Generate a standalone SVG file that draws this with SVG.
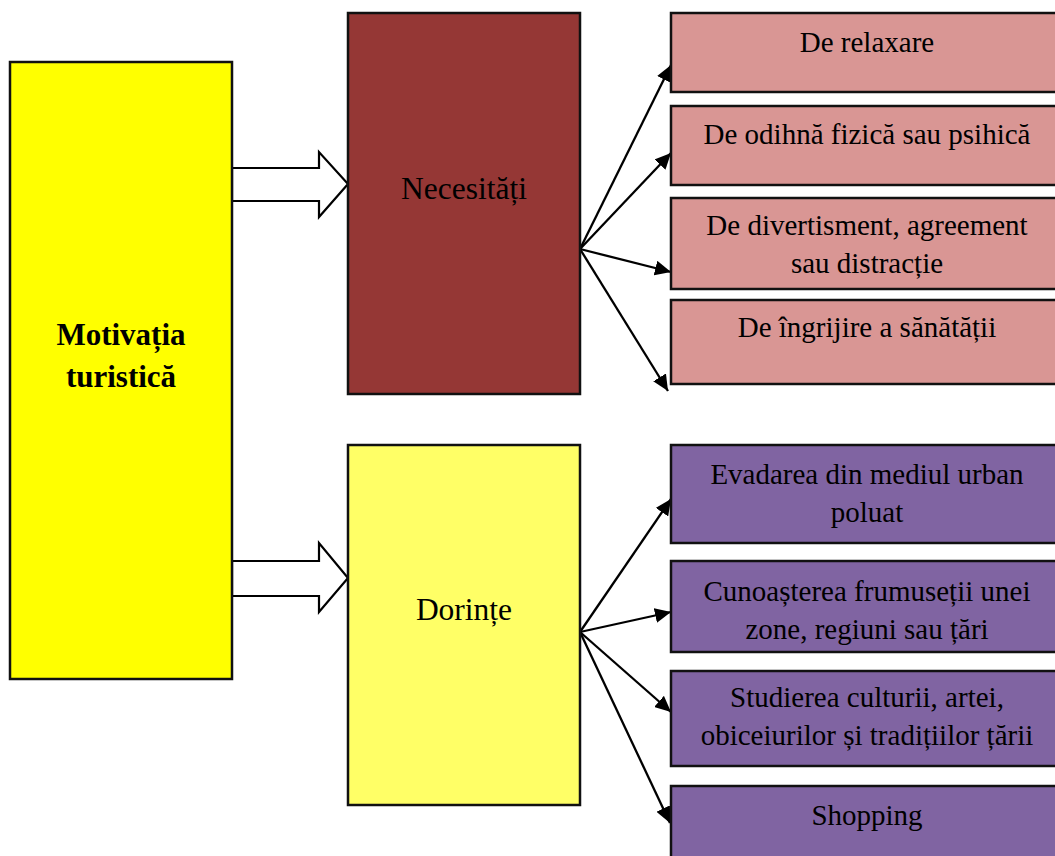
<svg xmlns="http://www.w3.org/2000/svg" width="1055" height="856" viewBox="0 0 1055 856">
  <style>
    .box { stroke: #111; stroke-width: 2.5; }
    .main { fill: #FFFF00; }
    .need { fill: #953735; }
    .wish { fill: #FFFF66; }
    .pink { fill: #D99694; }
    .purple { fill: #8064A2; }
    .t { font-family: "Liberation Serif", "Times New Roman", serif; font-size: 29px; fill: #000; text-anchor: middle; }
    .big { font-size: 31.5px; }
    .bold { font-weight: bold; font-size: 31px; }
    .block { fill: #fff; stroke: #000; stroke-width: 2.2; stroke-linejoin: miter; }
    .fan { stroke: #000; stroke-width: 2.3; fill: none; marker-end: url(#head); }
  </style>
  <defs>
    <marker id="head" markerUnits="userSpaceOnUse" markerWidth="17" markerHeight="15" refX="16" refY="7.5" orient="auto">
      <path d="M0,0 L16,7.5 L0,15 Z" fill="#000"/>
    </marker>
  </defs>
  <rect width="1055" height="856" fill="#fff"/>

  <g id="connectors">
    <!-- block arrows from the main box -->
    <polygon class="block" points="232,168 319,168 319,152 348,184 319,217 319,201 232,201"/>
    <polygon class="block" points="232,561 319,561 319,543 348,578 319,612 319,596 232,596"/>
    <!-- fan from Necesități -->
    <line class="fan" x1="580" y1="249" x2="671" y2="65"/>
    <line class="fan" x1="580" y1="249" x2="671" y2="153"/>
    <line class="fan" x1="580" y1="249" x2="671" y2="272"/>
    <line class="fan" x1="580" y1="249" x2="668" y2="391"/>
    <!-- fan from Dorințe -->
    <line class="fan" x1="580" y1="632" x2="671" y2="499"/>
    <line class="fan" x1="580" y1="632" x2="671" y2="612"/>
    <line class="fan" x1="580" y1="632" x2="671" y2="712"/>
    <line class="fan" x1="580" y1="632" x2="670" y2="823"/>
  </g>

  <g id="motivatia">
    <rect class="box main" x="10" y="62" width="222" height="617"/>
    <text class="t bold" x="121" y="345">Motivația</text>
    <text class="t bold" x="121" y="387">turistică</text>
  </g>

  <g id="necesitati">
    <rect class="box need" x="348" y="13" width="232" height="381"/>
    <text class="t big" x="464" y="199">Necesități</text>
  </g>

  <g id="dorinte">
    <rect class="box wish" x="348" y="445" width="232" height="360"/>
    <text class="t big" x="464" y="620">Dorințe</text>
  </g>

  <g id="relaxare">
    <rect class="box pink" x="671" y="13" width="400" height="79"/>
    <text class="t" x="867" y="52">De relaxare</text>
  </g>
  <g id="odihna">
    <rect class="box pink" x="671" y="106" width="400" height="79"/>
    <text class="t" x="867" y="144">De odihnă fizică sau psihică</text>
  </g>
  <g id="divertisment">
    <rect class="box pink" x="671" y="198" width="400" height="91"/>
    <text class="t" x="867" y="235">De divertisment, agreement</text>
    <text class="t" x="867" y="273">sau distracție</text>
  </g>
  <g id="sanatate">
    <rect class="box pink" x="671" y="300" width="400" height="84"/>
    <text class="t" x="867" y="337">De îngrijire a sănătății</text>
  </g>

  <g id="evadarea">
    <rect class="box purple" x="671" y="445" width="400" height="98"/>
    <text class="t" x="867" y="484">Evadarea din mediul urban</text>
    <text class="t" x="867" y="522">poluat</text>
  </g>
  <g id="cunoasterea">
    <rect class="box purple" x="671" y="561" width="400" height="91"/>
    <text class="t" x="867" y="601">Cunoașterea frumuseții unei</text>
    <text class="t" x="867" y="639">zone, regiuni sau țări</text>
  </g>
  <g id="studierea">
    <rect class="box purple" x="671" y="671" width="400" height="95"/>
    <text class="t" x="867" y="707">Studierea culturii, artei,</text>
    <text class="t" x="867" y="745">obiceiurilor și tradițiilor țării</text>
  </g>
  <g id="shopping">
    <rect class="box purple" x="671" y="786" width="400" height="90"/>
    <text class="t" x="867" y="825">Shopping</text>
  </g>
</svg>
